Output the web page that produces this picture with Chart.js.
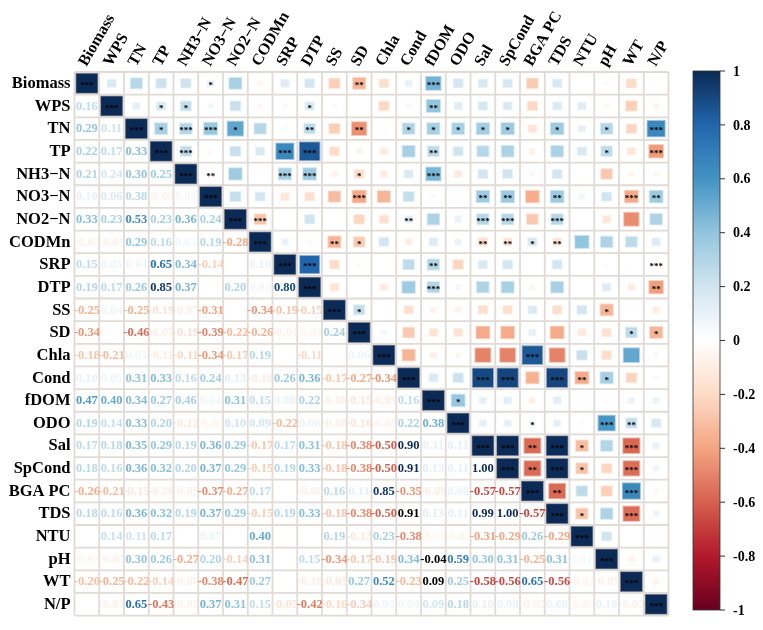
<!DOCTYPE html>
<html>
<head>
<meta charset="utf-8">
<script src="https://cdn.jsdelivr.net/npm/chart.js@4.4.1/dist/chart.umd.min.js"></script>
<style>
  body { margin: 0; background: #fff; }
  canvas { display: block; }
</style>
</head>
<body>
<canvas id="corr" width="763" height="630"></canvas>
<script>
// variables, in matrix order
const labels = ['Biomass', 'WPS', 'TN', 'TP', 'NH3−N', 'NO3−N', 'NO2−N', 'CODMn', 'SRP', 'DTP', 'SS', 'SD',
  'Chla', 'Cond', 'fDOM', 'ODO', 'Sal', 'SpCond', 'BGA PC', 'TDS', 'NTU', 'pH', 'WT', 'N/P'];

// lower triangle coefficients, row by row (null = no number shown)
const lowerRows = [
  [],
  [0.16],
  [0.29, 0.11],
  [0.22, 0.17, 0.33],
  [0.21, 0.24, 0.30, 0.25],
  [0.10, 0.06, 0.38, -0.04, 0.02],
  [0.33, 0.23, 0.53, 0.23, 0.36, 0.24],
  [-0.05, -0.05, 0.29, 0.16, 0.03, 0.19, -0.28],
  [0.15, 0.05, 0.04, 0.65, 0.34, -0.14, null, 0.10],
  [0.19, 0.17, 0.26, 0.85, 0.37, null, 0.20, 0.03, 0.80],
  [-0.25, 0.04, -0.25, -0.19, -0.07, -0.31, null, -0.34, -0.19, -0.15],
  [-0.34, null, -0.46, -0.07, -0.19, -0.39, -0.22, -0.26, -0.04, -0.01, 0.24],
  [-0.18, -0.21, 0.03, -0.11, -0.11, -0.34, -0.17, 0.19, null, -0.11, null, 0.06],
  [0.10, 0.05, 0.31, 0.33, 0.16, 0.24, 0.13, -0.10, 0.26, 0.36, -0.17, -0.27, -0.34],
  [0.47, 0.40, 0.34, 0.27, 0.46, 0.04, 0.31, 0.15, 0.08, 0.22, -0.08, -0.15, -0.09, 0.16],
  [0.19, 0.14, 0.33, 0.20, -0.12, -0.03, 0.10, 0.09, -0.22, 0.06, -0.08, -0.16, -0.05, 0.22, 0.38],
  [0.17, 0.18, 0.35, 0.29, 0.19, 0.36, 0.29, -0.17, 0.17, 0.31, -0.18, -0.38, -0.50, 0.90, 0.11, 0.11],
  [0.18, 0.16, 0.36, 0.32, 0.20, 0.37, 0.29, -0.15, 0.19, 0.33, -0.18, -0.38, -0.50, 0.91, 0.13, 0.11, 1.00],
  [-0.26, -0.21, -0.15, -0.08, -0.05, -0.37, -0.27, 0.17, null, -0.06, 0.16, 0.11, 0.85, -0.35, -0.09, 0.08, -0.57, -0.57],
  [0.18, 0.16, 0.36, 0.32, 0.19, 0.37, 0.29, -0.15, 0.19, 0.33, -0.18, -0.38, -0.50, 0.91, 0.13, 0.11, 0.99, 1.00, -0.57],
  [null, 0.14, 0.11, 0.17, null, 0.07, null, 0.40, null, null, 0.19, -0.13, 0.23, -0.38, -0.01, -0.03, -0.31, -0.29, 0.26, -0.29],
  [-0.03, -0.05, 0.30, 0.26, -0.27, 0.20, -0.14, 0.31, null, 0.15, -0.34, -0.17, -0.19, 0.34, -0.04, 0.59, 0.30, 0.31, -0.25, 0.31, 0.01],
  [-0.20, -0.25, -0.22, -0.14, -0.06, -0.38, -0.47, 0.27, null, -0.10, -0.03, 0.27, 0.52, -0.23, 0.09, 0.25, -0.58, -0.56, 0.65, -0.56, -0.01, -0.07],
  [null, -0.07, 0.65, -0.43, -0.05, 0.37, 0.31, 0.15, -0.05, -0.42, -0.10, -0.34, 0.05, 0.04, 0.09, 0.18, 0.10, 0.08, -0.05, 0.08, -0.03, 0.10, -0.07]
];

// lower-triangle numbers printed faded in the reference: [row, col]
const fadedText = [[4, 1], [5, 0], [5, 2], [5, 3], [5, 4], [7, 0], [7, 1], [7, 4], [8, 1], [8, 2], [8, 7], [9, 7],
  [10, 1], [10, 3], [10, 4], [11, 3], [11, 4], [11, 8], [11, 9], [12, 2], [12, 3], [12, 11], [13, 0], [13, 1], [13, 6], [13, 7],
  [14, 4], [14, 5], [14, 8], [14, 10], [14, 11], [14, 12], [15, 4], [15, 5], [15, 9], [15, 10], [15, 11], [15, 12],
  [16, 14], [16, 15], [17, 14], [17, 15], [18, 2], [18, 3], [18, 4], [18, 9], [18, 11], [18, 14], [18, 15], [19, 14], [19, 15],
  [20, 5], [20, 11], [20, 14], [20, 15], [21, 0], [21, 1], [21, 20], [22, 4], [22, 9], [22, 20], [22, 21],
  [23, 1], [23, 4], [23, 11], [23, 12], [23, 13], [23, 16], [23, 17], [23, 18], [23, 19], [23, 20], [23, 21], [23, 22]];
// lower-triangle numbers printed in black in the reference
const blackText = [[19, 13], [21, 14], [22, 14]];

// upper triangle squares that differ from the mirrored lower value: [row, col, r]
const upperOverrides = [[5, 9, -0.18], [8, 14, 0.30], [9, 14, 0.30], [8, 21, 0.02], [8, 22, 0.02], [20, 21, 0.20], [17, 21, -0.22]];

// significance marks in the upper triangle: [row, col]
const oneStar = [[0, 5], [1, 3], [1, 4], [1, 9], [2, 3], [2, 6], [2, 13], [2, 14], [2, 15], [2, 16], [2, 17], [2, 19], [2, 21],
  [3, 21], [4, 11], [7, 11], [7, 18], [10, 11], [10, 21], [11, 22], [11, 23], [13, 21], [14, 15], [15, 18], [16, 20], [17, 20], [19, 20]];
const twoStars = [[0, 11], [1, 14], [2, 9], [2, 11], [3, 14], [4, 5], [5, 16], [5, 17], [5, 19], [5, 23], [6, 13], [7, 10], [7, 16],
  [7, 17], [7, 19], [8, 14], [9, 23], [13, 20], [15, 22], [16, 18], [17, 18], [18, 19]];
const threeStars = [[0, 14], [2, 4], [2, 5], [2, 23], [3, 4], [3, 8], [3, 9], [3, 23], [4, 8], [4, 9], [4, 14], [5, 11], [5, 22],
  [6, 7], [6, 16], [6, 17], [6, 19], [8, 9], [8, 23], [9, 14], [12, 18], [13, 16], [13, 17], [13, 19], [15, 21], [16, 17], [16, 19],
  [16, 22], [17, 19], [17, 22], [18, 22], [19, 22]];

const cbTicks = [1, 0.8, 0.6, 0.4, 0.2, 0, -0.2, -0.4, -0.6, -0.8, -1];

const palette = ['#67001F', '#B2182B', '#D6604D', '#F4A582', '#FDDBC7', '#FFFFFF', '#D1E5F0', '#92C5DE', '#4393C3', '#2166AC', '#0B2A55'];

function hexRgb(h) {
  return [parseInt(h.slice(1, 3), 16), parseInt(h.slice(3, 5), 16), parseInt(h.slice(5, 7), 16)];
}
function corrRgb(v) {
  const t = (Math.max(-1, Math.min(1, v)) + 1) / 2 * 10;
  const i = Math.min(9, Math.floor(t));
  const f = t - i;
  const a = hexRgb(palette[i]), b = hexRgb(palette[i + 1]);
  return a.map((x, k) => Math.round(x + (b[k] - x) * f));
}
function corrColor(v) {
  const c = corrRgb(v);
  return `rgb(${c[0]},${c[1]},${c[2]})`;
}
function lighter(v) {
  const c = corrRgb(v).map(x => Math.round(x + (255 - x) * 0.55));
  return `rgb(${c[0]},${c[1]},${c[2]})`;
}
function textColor(v) {
  const m = Math.min(1, Math.abs(v) + 0.1);
  return corrColor(v < 0 ? -m : m);
}

// build cell lists
const n = labels.length;
const starOf = {};
oneStar.forEach(([r, c]) => starOf[r + '_' + c] = '*');
twoStars.forEach(([r, c]) => starOf[r + '_' + c] = '**');
threeStars.forEach(([r, c]) => starOf[r + '_' + c] = '***');
const overrideOf = {};
upperOverrides.forEach(([r, c, v]) => overrideOf[r + '_' + c] = v);
const fadedKeys = new Set(fadedText.map(([r, c]) => r + '_' + c));
const blackKeys = new Set(blackText.map(([r, c]) => r + '_' + c));

const lowerCells = [];
const upperCells = [];
for (let i = 0; i < n; i++) {
  upperCells.push({ x: i, y: i, v: 1, star: '***', diag: true });
  for (let j = 0; j < i; j++) {
    const v = lowerRows[i][j];
    const key = i + '_' + j;
    if (v !== null) lowerCells.push({ x: j, y: i, v: v, faded: fadedKeys.has(key), black: blackKeys.has(key) });
  }
  for (let j = i + 1; j < n; j++) {
    const key = i + '_' + j;
    const v = key in overrideOf ? overrideOf[key] : lowerRows[j][i];
    if (v !== null) upperCells.push({ x: j, y: i, v: v, star: starOf[key] || '' });
  }
}

const serif = '"Liberation Serif", "Times New Roman", serif';

const corrPlugin = {
  id: 'corrPlugin',
  afterDatasetsDraw(chart) {
    const ctx = chart.ctx;
    const xs = chart.scales.x, ys = chart.scales.y;
    const cellBox = (c, r) => {
      const x0 = xs.getPixelForValue(c - 0.5), x1 = xs.getPixelForValue(c + 0.5);
      const y0 = ys.getPixelForValue(r - 0.5), y1 = ys.getPixelForValue(r + 0.5);
      return { cx: (x0 + x1) / 2, cy: (y0 + y1) / 2, w: Math.abs(x1 - x0), h: Math.abs(y1 - y0) };
    };
    ctx.save();

    // squares of the upper triangle and the diagonal
    chart.data.datasets[0].data.forEach(d => {
      const b = cellBox(d.x, d.y);
      const s = Math.sqrt(Math.abs(d.v));
      const w = Math.min(b.w - 1.6, s * (b.w - 2.5) + 1.2);
      const h = Math.min(b.h - 1.6, s * (b.h - 2.5) + 1.2);
      const x = b.cx - w / 2, y = b.cy - h / 2;
      ctx.fillStyle = d.diag ? '#8a8f99' : lighter(d.v);
      ctx.fillRect(x, y, w, h);
      ctx.fillStyle = corrColor(d.v);
      ctx.fillRect(x + 1, y + 1, w - 2, h - 2);
      if (d.star) {
        ctx.fillStyle = '#000';
        ctx.font = 'bold 9px ' + serif;
        ctx.textAlign = 'center';
        ctx.textBaseline = 'middle';
        ctx.fillText(d.star, b.cx, b.cy + 2.5);
      }
    });

    // grid lines
    ctx.strokeStyle = '#e0dbd6';
    ctx.lineWidth = 1.8;
    ctx.beginPath();
    for (let k = 0; k <= n; k++) {
      const x = xs.getPixelForValue(k - 0.5);
      const y = ys.getPixelForValue(k - 0.5);
      ctx.moveTo(x, ys.getPixelForValue(-0.5));
      ctx.lineTo(x, ys.getPixelForValue(n - 0.5));
      ctx.moveTo(xs.getPixelForValue(-0.5), y);
      ctx.lineTo(xs.getPixelForValue(n - 0.5), y);
    }
    ctx.stroke();

    // numbers of the lower triangle
    ctx.font = 'bold 12.5px ' + serif;
    ctx.textAlign = 'center';
    ctx.textBaseline = 'middle';
    chart.data.datasets[1].data.forEach(d => {
      const b = cellBox(d.x, d.y);
      ctx.globalAlpha = d.faded ? 0.5 : 1;
      ctx.fillStyle = d.black ? '#000' : textColor(d.v);
      ctx.fillText(d.v.toFixed(2), b.cx, b.cy + 0.5);
    });
    ctx.globalAlpha = 1;

    // row labels
    ctx.fillStyle = '#000';
    ctx.font = 'bold 16.5px ' + serif;
    ctx.textAlign = 'right';
    labels.forEach((lab, i) => {
      const b = cellBox(0, i);
      ctx.fillText(lab, b.cx - b.w / 2 - 4, b.cy + 0.5);
    });

    // column labels, rotated
    ctx.font = 'bold 16px ' + serif;
    ctx.textAlign = 'left';
    labels.forEach((lab, i) => {
      const b = cellBox(i, 0);
      ctx.save();
      ctx.translate(b.cx - 4, b.cy - b.h / 2 - 7);
      ctx.rotate(-Math.PI / 3);
      ctx.fillText(lab, 0, 0);
      ctx.restore();
    });

    // colour bar
    const cbX = 693, cbW = 27, cbTop = 71, cbBot = 610;
    const grad = ctx.createLinearGradient(0, cbTop, 0, cbBot);
    for (let k = 0; k <= 40; k++) {
      grad.addColorStop(k / 40, corrColor(1 - k / 20));
    }
    ctx.fillStyle = grad;
    ctx.fillRect(cbX, cbTop, cbW, cbBot - cbTop);
    ctx.strokeStyle = '#333';
    ctx.lineWidth = 0.8;
    ctx.strokeRect(cbX, cbTop, cbW, cbBot - cbTop);
    ctx.font = 'bold 14px ' + serif;
    ctx.fillStyle = '#000';
    ctx.textAlign = 'left';
    ctx.lineWidth = 1;
    cbTicks.forEach(t => {
      const y = cbTop + (1 - t) / 2 * (cbBot - cbTop);
      ctx.beginPath();
      ctx.moveTo(cbX + cbW, y);
      ctx.lineTo(cbX + cbW + 5, y);
      ctx.stroke();
      ctx.fillText(String(t), cbX + cbW + 13, y + 1);
    });

    ctx.restore();
  }
};

new Chart(document.getElementById('corr'), {
  type: 'scatter',
  data: {
    datasets: [
      { label: 'upper', data: upperCells, pointRadius: 0 },
      { label: 'lower', data: lowerCells, pointRadius: 0 }
    ]
  },
  options: {
    responsive: false,
    animation: false,
    events: [],
    layout: { padding: { left: 74.5, top: 72, right: 94.5, bottom: 14.4 } },
    scales: {
      x: { type: 'linear', min: -0.5, max: n - 0.5, display: false },
      y: { type: 'linear', min: -0.5, max: n - 0.5, reverse: true, display: false }
    },
    plugins: { legend: { display: false }, tooltip: { enabled: false } }
  },
  plugins: [corrPlugin]
});
</script>
</body>
</html>
